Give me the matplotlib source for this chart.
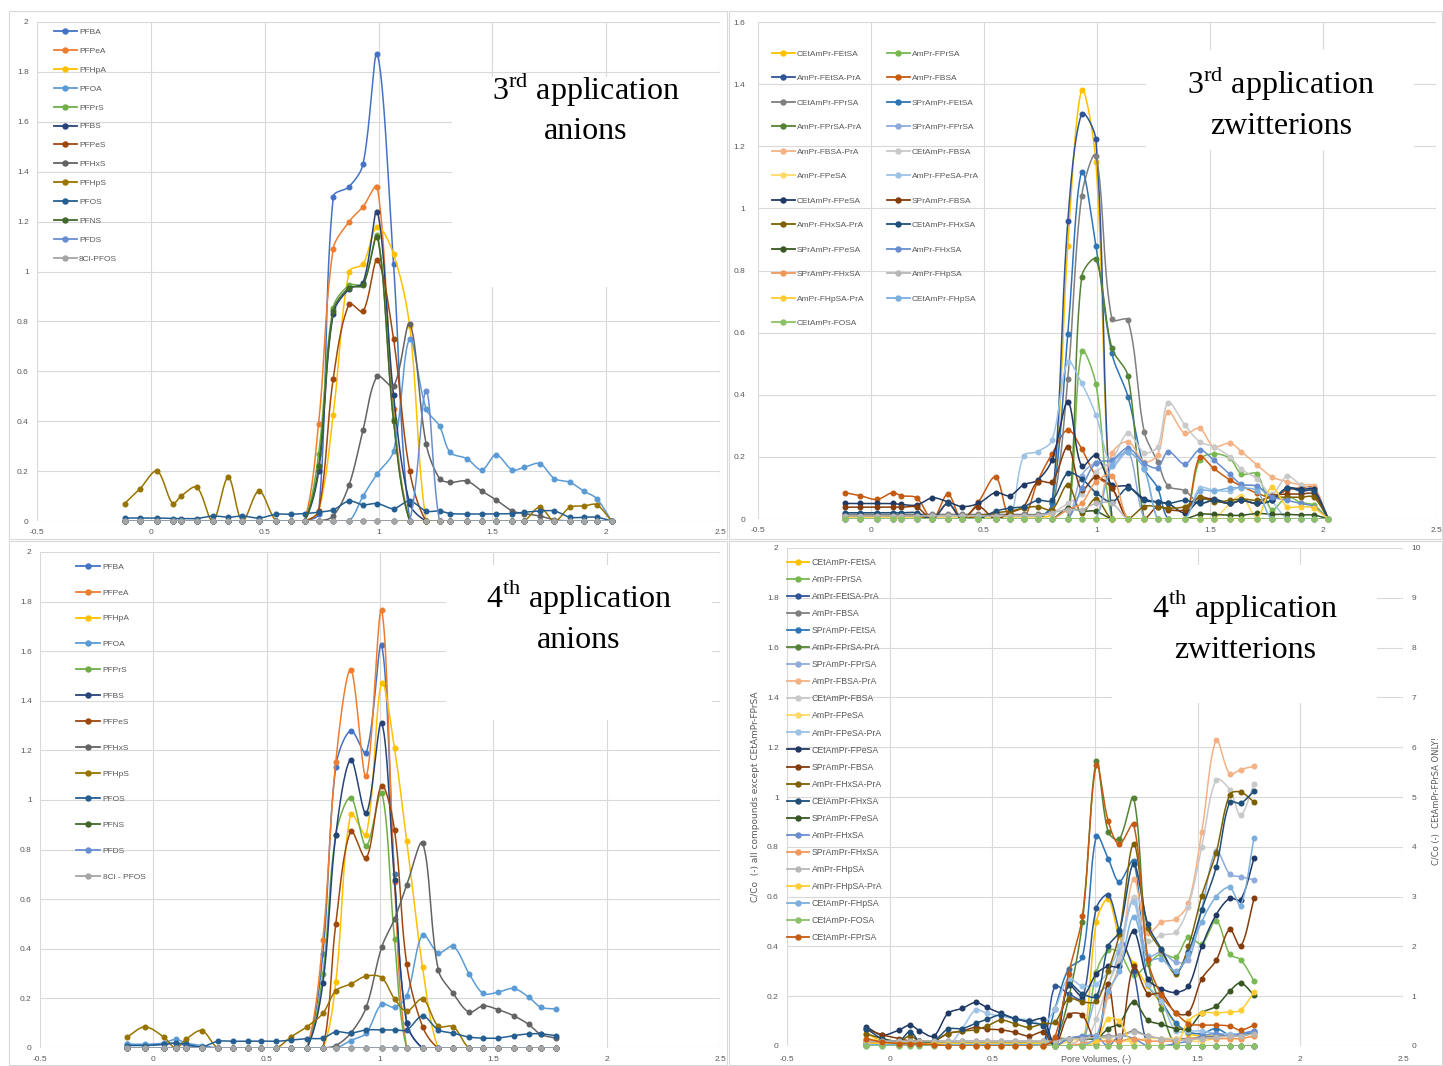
import numpy as np
import matplotlib.pyplot as plt
from matplotlib.patches import Rectangle
from matplotlib.lines import Line2D
from matplotlib.ticker import FuncFormatter

plt.rcParams['font.family'] = ['Liberation Sans Narrow', 'Liberation Sans', 'DejaVu Sans']
plt.rcParams['mathtext.fontset'] = 'custom'
plt.rcParams['mathtext.rm'] = 'Liberation Serif'

# Pore volumes sampled in each application
pv_3rd = [-0.115, -0.047, 0.027, 0.096, 0.133, 0.202, 0.272, 0.34, 0.402, 0.475,
          0.551, 0.614, 0.675, 0.737, 0.801, 0.871, 0.932, 0.995, 1.066, 1.137,
          1.209, 1.268, 1.315, 1.388, 1.454, 1.516, 1.588, 1.639, 1.708, 1.773,
          1.841, 1.901, 1.958, 2.024]
pv_4th = [-0.115, -0.037, 0.045, 0.099, 0.144, 0.214, 0.284, 0.353, 0.419, 0.473,
          0.542, 0.608, 0.678, 0.748, 0.805, 0.871, 0.939, 1.007, 1.064, 1.118,
          1.188, 1.257, 1.323, 1.393, 1.455, 1.520, 1.590, 1.656, 1.709, 1.775]

# ---------------- 3rd application, anions ----------------
pfba_3 = [0, 0, 0, 0, 0, 0, 0, 0, 0, 0,
          0, 0, 0, 0.03, 1.30, 1.34, 1.43, 1.87, 1.03, 0,
          0, 0, 0, 0, 0, 0, 0, 0, 0, 0,
          0, 0, 0, 0]
pfpea_3 = [0, 0, 0, 0, 0, 0, 0, 0, 0, 0,
           0, 0, 0, 0.39, 1.09, 1.20, 1.26, 1.34, 0.45, 0,
           0, 0, 0, 0, 0, 0, 0, 0, 0, 0,
           0, 0, 0, 0]
pfhpa_3 = [0, 0, 0, 0, 0, 0, 0, 0, 0, 0,
           0, 0, 0, 0.04, 0.425, 1.00, 1.03, 1.18, 1.07, 0.78,
           0, 0, 0, 0, 0, 0, 0, 0, 0, 0,
           0, 0, 0, 0]
pfoa_3 = [0, 0, 0, 0, 0, 0, 0, 0, 0, 0,
          0, 0, 0, 0, 0, 0, 0.10, 0.19, 0.28, 0.73,
          0.45, 0.38, 0.275, 0.25, 0.205, 0.265, 0.205, 0.215, 0.23, 0.17,
          0.155, 0.12, 0.09, 0]
pfprs_3 = [0, 0, 0, 0, 0, 0, 0, 0, 0, 0,
           0, 0, 0, 0.27, 0.855, 0.945, 0.95, 1.145, 0.41, 0,
           0, 0, 0, 0, 0, 0, 0, 0, 0, 0,
           0, 0, 0, 0]
pfbs_3 = [0, 0, 0, 0, 0, 0, 0, 0, 0, 0,
          0, 0, 0, 0.20, 0.83, 0.93, 0.955, 1.24, 0.505, 0.07,
          0, 0, 0, 0, 0, 0, 0, 0, 0, 0,
          0, 0, 0, 0]
pfpes_3 = [0, 0, 0, 0, 0, 0, 0, 0, 0, 0,
           0, 0, 0, 0.04, 0.57, 0.87, 0.84, 1.045, 0.73, 0.20,
           0, 0, 0, 0, 0, 0, 0, 0, 0, 0,
           0, 0, 0, 0]
pfhxs_3 = [0, 0, 0, 0, 0, 0, 0, 0, 0, 0,
           0, 0, 0, 0, 0.02, 0.145, 0.365, 0.58, 0.54, 0.79,
           0.31, 0.17, 0.155, 0.16, 0.12, 0.085, 0.04, 0.03, 0.02, 0.005,
           0, 0, 0, 0]
pfhps_3 = [0.07, 0.13, 0.20, 0.07, 0.10, 0.135, 0, 0.175, 0, 0.12,
           0, 0, 0, 0, 0, 0, 0, 0, 0, 0,
           0, 0, 0, 0, 0, 0, 0, 0, 0.055, 0,
           0.055, 0.06, 0.065, 0]
pfos_3 = [0.012, 0.012, 0.012, 0.01, 0.01, 0.01, 0.02, 0.015, 0.02, 0.012,
          0.027, 0.027, 0.03, 0.035, 0.045, 0.08, 0.065, 0.07, 0.05, 0.08,
          0.04, 0.04, 0.03, 0.028, 0.028, 0.028, 0.03, 0.035, 0.04, 0.04,
          0.015, 0.015, 0.015, 0]
pfns_3 = [0, 0, 0, 0, 0, 0, 0, 0, 0, 0,
          0, 0, 0, 0.22, 0.84, 0.935, 0.945, 1.14, 0.40, 0,
          0, 0, 0, 0, 0, 0, 0, 0, 0, 0,
          0, 0, 0, 0]
pfds_3 = [0, 0, 0, 0, 0, 0, 0, 0, 0, 0,
          0, 0, 0, 0, 0, 0, 0, 0, 0, 0,
          0.52, 0, 0, 0, 0, 0, 0, 0, 0, 0,
          0, 0, 0, 0]
cl8pfos_3 = [0, 0, 0, 0, 0, 0, 0, 0, 0, 0,
             0, 0, 0, 0, 0, 0, 0, 0, 0, 0,
             0, 0, 0, 0, 0, 0, 0, 0, 0, 0,
             0, 0, 0, 0]

# ---------------- 4th application, anions ----------------
pfba_4 = [0.015, 0.01, 0.015, 0.02, 0.01, 0.005, 0, 0, 0, 0,
          0, 0, 0, 0.38, 1.135, 1.28, 1.19, 1.625, 0.70, 0.10,
          0, 0, 0, 0, 0, 0, 0, 0, 0, 0]
pfpea_4 = [0, 0, 0, 0, 0, 0, 0, 0, 0, 0,
           0, 0, 0, 0.435, 1.155, 1.525, 1.095, 1.765, 0.67, 0,
           0, 0, 0, 0, 0, 0, 0, 0, 0, 0]
pfhpa_4 = [0, 0, 0, 0, 0, 0, 0, 0, 0, 0,
           0, 0, 0, 0, 0.266, 0.945, 0.86, 1.472, 1.208, 0.833,
           0.325, 0, 0, 0, 0, 0, 0, 0, 0, 0]
pfoa_4 = [0.015, 0.015, 0.02, 0.035, 0.02, 0.01, 0, 0, 0, 0,
          0, 0, 0, 0, 0, 0.03, 0.06, 0.177, 0.164, 0.21,
          0.457, 0.384, 0.41, 0.30, 0.22, 0.225, 0.24, 0.205, 0.165, 0.157]
pfprs_4 = [0, 0, 0, 0, 0, 0, 0, 0, 0, 0,
           0, 0, 0, 0.30, 0.86, 1.01, 0.815, 1.03, 0.438, 0,
           0, 0, 0, 0, 0, 0, 0, 0, 0, 0]
pfbs_4 = [0, 0, 0, 0, 0, 0, 0, 0, 0, 0,
          0, 0, 0, 0.262, 0.86, 1.163, 0.946, 1.311, 0.676, 0.102,
          0, 0, 0, 0, 0, 0, 0, 0, 0, 0]
pfpes_4 = [0, 0, 0, 0, 0, 0, 0, 0, 0, 0,
           0, 0, 0, 0, 0.501, 0.874, 0.765, 1.058, 0.88, 0.337,
           0.086, 0, 0, 0, 0, 0, 0, 0, 0, 0]
pfhxs_4 = [0, 0, 0, 0, 0, 0, 0, 0, 0, 0,
           0, 0, 0, 0, 0.01, 0.06, 0.164, 0.406, 0.52, 0.657,
           0.826, 0.315, 0.22, 0.145, 0.17, 0.155, 0.13, 0.095, 0.055, 0.04]
pfhps_4 = [0.045, 0.085, 0.045, 0, 0.035, 0.07, 0, 0, 0, 0,
           0, 0.045, 0.086, 0.14, 0.231, 0.258, 0.29, 0.284, 0.198, 0.149,
           0.198, 0.088, 0.086, 0, 0, 0, 0, 0, 0, 0]
pfos_4 = [0.01, 0.01, 0.015, 0.02, 0.015, 0.005, 0.027, 0.027, 0.028, 0.028,
          0.027, 0.032, 0.038, 0.04, 0.065, 0.06, 0.073, 0.073, 0.073, 0.073,
          0.129, 0.073, 0.06, 0.044, 0.04, 0.04, 0.05, 0.057, 0.057, 0.05]
pfns_4 = [0, 0, 0, 0, 0, 0, 0, 0, 0, 0,
          0, 0, 0, 0, 0, 0, 0, 0, 0, 0,
          0, 0, 0, 0, 0, 0, 0, 0, 0, 0]
pfds_4 = [0, 0, 0, 0, 0, 0, 0, 0, 0, 0,
          0, 0, 0, 0, 0, 0, 0, 0, 0, 0,
          0, 0, 0, 0, 0, 0, 0, 0, 0, 0]
cl8pfos_4 = [0, 0, 0, 0, 0, 0, 0, 0, 0, 0,
             0, 0, 0, 0, 0, 0, 0, 0, 0, 0,
             0, 0, 0, 0, 0, 0, 0, 0, 0, 0]

anion_names_3 = ['PFBA', 'PFPeA', 'PFHpA', 'PFOA', 'PFPrS', 'PFBS', 'PFPeS', 'PFHxS',
                 'PFHpS', 'PFOS', 'PFNS', 'PFDS', '8Cl-PFOS']
anion_names_4 = ['PFBA', 'PFPeA', 'PFHpA', 'PFOA', 'PFPrS', 'PFBS', 'PFPeS', 'PFHxS',
                 'PFHpS', 'PFOS', 'PFNS', 'PFDS', '8Cl - PFOS']
anion_colors = ['#4472C4', '#ED7D31', '#FFC000', '#5B9BD5', '#70AD47', '#264478', '#9E480E',
                '#636363', '#997300', '#255E91', '#43682B', '#698ED0', '#A5A5A5']

# ---------------- 3rd application, zwitterions ----------------
z3_cetampr_fetsa = [0.01, 0.01, 0.01, 0.01, 0.01, 0.01, 0.01, 0.005, 0.005, 0.005,
                    0.005, 0.005, 0.005, 0.005, 0.02, 0.88, 1.38, 1.15, 0, 0,
                    0, 0, 0, 0, 0, 0, 0, 0, 0, 0,
                    0, 0, 0, 0]
z3_ampr_fprsa = [0, 0, 0, 0, 0, 0, 0, 0, 0, 0,
                 0, 0, 0, 0, 0, 0, 0.54, 0.435, 0, 0,
                 0, 0, 0, 0, 0.19, 0.21, 0.195, 0.145, 0.145, 0.03,
                 0.072, 0.053, 0.045, 0]
z3_ampr_fetsa_pra = [0, 0, 0, 0, 0, 0, 0, 0, 0, 0,
                     0, 0, 0, 0, 0.05, 0.96, 1.305, 1.222, 0, 0,
                     0, 0, 0, 0, 0, 0, 0, 0, 0, 0,
                     0, 0, 0, 0]
z3_ampr_fbsa = [0.085, 0.075, 0.063, 0.085, 0.075, 0.068, 0, 0.08, 0, 0.055,
                0.135, 0, 0, 0.12, 0.21, 0.287, 0.226, 0.14, 0.10, 0,
                0, 0, 0, 0, 0.20, 0.163, 0.126, 0.106, 0.083, 0.07,
                0.093, 0.10, 0.10, 0]
z3_cetampr_fprsa = [0.015, 0.015, 0.015, 0.015, 0.015, 0.015, 0.015, 0.015, 0.015, 0.015,
                    0.015, 0.015, 0.015, 0.015, 0.03, 0.45, 1.04, 1.17, 0.643, 0.64,
                    0.281, 0.185, 0.106, 0.091, 0.05, 0.06, 0.05, 0.06, 0.05, 0.06,
                    0.10, 0.09, 0.09, 0]
z3_sprampr_fetsa = [0, 0, 0, 0, 0, 0, 0, 0, 0, 0,
                    0, 0, 0, 0, 0.05, 0.596, 1.118, 0.879, 0.533, 0.394,
                    0.165, 0.10, 0, 0, 0, 0, 0, 0, 0, 0,
                    0, 0, 0, 0]
z3_ampr_fprsa_pra = [0, 0, 0, 0, 0, 0, 0, 0, 0, 0,
                     0, 0, 0, 0, 0, 0, 0.78, 0.836, 0.55, 0.46,
                     0, 0, 0, 0, 0, 0, 0, 0, 0, 0,
                     0, 0, 0, 0]
z3_sprampr_fprsa = [0, 0, 0, 0, 0, 0, 0, 0, 0, 0,
                    0, 0, 0, 0, 0, 0, 0.14, 0.18, 0.17, 0.22,
                    0, 0, 0, 0, 0, 0, 0, 0, 0, 0,
                    0, 0, 0, 0]
z3_ampr_fbsa_pra = [0, 0, 0, 0, 0, 0, 0, 0, 0, 0,
                    0, 0, 0, 0, 0, 0, 0, 0, 0.211, 0.249,
                    0.185, 0.206, 0.346, 0.276, 0.292, 0.233, 0.244, 0.217, 0.174, 0.136,
                    0.12, 0.11, 0.106, 0]
z3_cetampr_fbsa = [0.01, 0.01, 0.01, 0.01, 0.01, 0.01, 0.01, 0.01, 0.01, 0.01,
                   0.01, 0.01, 0.01, 0.01, 0.02, 0.05, 0.08, 0.15, 0.19, 0.276,
                   0.214, 0.233, 0.375, 0.303, 0.249, 0.233, 0.2, 0.16, 0.13, 0.08,
                   0.138, 0.11, 0.093, 0]
z3_ampr_fpesa = [0.005, 0.005, 0.005, 0.005, 0.005, 0.005, 0.005, 0.005, 0.005, 0.005,
                 0.005, 0.005, 0.005, 0.005, 0, 0, 0, 0, 0, 0,
                 0, 0, 0, 0, 0, 0, 0.05, 0.075, 0, 0,
                 0, 0, 0, 0]
z3_ampr_fpesa_pra = [0, 0, 0, 0, 0, 0, 0, 0, 0, 0,
                     0, 0, 0.203, 0.217, 0.254, 0.506, 0.437, 0.335, 0.17, 0.215,
                     0.16, 0, 0, 0, 0.099, 0.093, 0.09, 0.106, 0.104, 0.06,
                     0, 0, 0, 0]
z3_cetampr_fpesa = [0.05, 0.05, 0.05, 0.05, 0.047, 0.045, 0.068, 0.055, 0.04, 0.05,
                    0.085, 0.075, 0.11, 0.125, 0.19, 0.376, 0.17, 0.205, 0.11, 0.105,
                    0.065, 0.055, 0.05, 0.02, 0.06, 0.065, 0.05, 0.06, 0.05, 0.06,
                    0.10, 0.095, 0.095, 0]
z3_sprampr_fbsa = [0.038, 0.038, 0.038, 0.038, 0.038, 0.038, 0, 0.05, 0, 0.04,
                   0, 0.02, 0.04, 0.12, 0.12, 0.232, 0.094, 0.135, 0.10, 0,
                   0, 0.04, 0.03, 0.03, 0.07, 0.06, 0.05, 0.06, 0.05, 0.075,
                   0.08, 0.08, 0.08, 0]
z3_ampr_fhxsa_pra = [0.01, 0.01, 0.01, 0.01, 0.01, 0.01, 0, 0, 0, 0.01,
                     0.02, 0.025, 0.035, 0.04, 0.03, 0.11, 0.02, 0.065, 0, 0,
                     0.04, 0.04, 0.035, 0.04, 0.07, 0.055, 0.06, 0.065, 0.06, 0.07,
                     0.07, 0.07, 0.07, 0]
z3_cetampr_fhxsa = [0.02, 0.02, 0.02, 0.02, 0.02, 0.02, 0, 0.05, 0, 0,
                    0.025, 0.035, 0.04, 0.06, 0.06, 0.148, 0.13, 0.085, 0.055, 0.10,
                    0.06, 0.055, 0.05, 0.06, 0.05, 0.06, 0.05, 0.06, 0.05, 0.06,
                    0.10, 0.09, 0.09, 0]
z3_sprampr_fpesa = [0, 0, 0, 0, 0, 0, 0, 0, 0, 0,
                    0, 0, 0, 0, 0, 0.035, 0.025, 0.025, 0, 0,
                    0, 0, 0, 0, 0.015, 0.015, 0.012, 0.012, 0.018, 0.015,
                    0.015, 0.013, 0.013, 0]
z3_ampr_fhxsa = [0, 0, 0, 0, 0, 0, 0, 0, 0, 0,
                 0, 0, 0, 0, 0, 0, 0.10, 0.18, 0.19, 0.228,
                 0.18, 0.165, 0.217, 0.177, 0.222, 0.19, 0.144, 0.112, 0.106, 0.072,
                 0.06, 0.05, 0.04, 0]
z3_sprampr_fhxsa = [0, 0, 0, 0, 0, 0, 0, 0, 0, 0,
                    0, 0, 0, 0, 0, 0.03, 0.05, 0.12, 0.14, 0,
                    0, 0, 0, 0, 0, 0, 0, 0, 0, 0,
                    0, 0, 0, 0]
z3_ampr_fhpsa = [0.01, 0.01, 0.01, 0.01, 0.01, 0.01, 0.01, 0.01, 0.01, 0.01,
                 0.01, 0.01, 0.01, 0.01, 0.02, 0.03, 0.03, 0.05, 0.05, 0,
                 0, 0, 0, 0, 0, 0, 0, 0, 0, 0,
                 0, 0, 0, 0]
z3_ampr_fhpsa_pra = [0, 0, 0, 0, 0, 0, 0, 0, 0, 0,
                     0, 0, 0, 0, 0, 0, 0, 0, 0, 0,
                     0, 0, 0, 0, 0, 0, 0, 0, 0, 0.102,
                     0.04, 0.04, 0.035, 0]
z3_cetampr_fhpsa = [0, 0, 0, 0, 0, 0, 0, 0, 0, 0,
                    0, 0, 0, 0, 0, 0, 0, 0, 0.175, 0.215,
                    0.16, 0, 0, 0, 0.09, 0.09, 0.10, 0.10, 0.09, 0,
                    0, 0, 0, 0]
z3_cetampr_fosa = [0, 0, 0, 0, 0, 0, 0, 0, 0, 0,
                   0, 0, 0, 0, 0, 0, 0, 0, 0, 0,
                   0, 0, 0, 0, 0, 0, 0, 0, 0, 0,
                   0, 0, 0, 0]

zw_names_3 = ['CEtAmPr-FEtSA', 'AmPr-FPrSA', 'AmPr-FEtSA-PrA', 'AmPr-FBSA', 'CEtAmPr-FPrSA',
              'SPrAmPr-FEtSA', 'AmPr-FPrSA-PrA', 'SPrAmPr-FPrSA', 'AmPr-FBSA-PrA', 'CEtAmPr-FBSA',
              'AmPr-FPeSA', 'AmPr-FPeSA-PrA', 'CEtAmPr-FPeSA', 'SPrAmPr-FBSA', 'AmPr-FHxSA-PrA',
              'CEtAmPr-FHxSA', 'SPrAmPr-FPeSA', 'AmPr-FHxSA', 'SPrAmPr-FHxSA', 'AmPr-FHpSA',
              'AmPr-FHpSA-PrA', 'CEtAmPr-FHpSA', 'CEtAmPr-FOSA']
zw_colors_3 = ['#FFC000', '#78B850', '#2F5597', '#C55A11', '#7F7F7F',
               '#2E75B6', '#548235', '#8FAADC', '#F4B183', '#C9C9C9',
               '#FFD966', '#9DC3E6', '#203864', '#843C0C', '#7F6000',
               '#1F4E79', '#385723', '#698ED0', '#F1975A', '#B7B7B7',
               '#FFCD33', '#7CAFDD', '#8CC168']

# ---------------- 4th application, zwitterions ----------------
z4_cetampr_fetsa = [0.05, 0.02, 0.01, 0.01, 0.005, 0.005, 0, 0, 0, 0,
                    0, 0, 0, 0, 0, 0, 0, 0.50, 0.59, 0.44,
                    0.33, 0.24, 0.17, 0.09, 0.05, 0.04, 0.04, 0.04, 0.04, 0.05]
z4_ampr_fprsa = [0.005, 0.005, 0.005, 0.005, 0.005, 0.005, 0.005, 0.005, 0.005, 0.005,
                 0.005, 0.005, 0.005, 0.005, 0, 0, 0, 0.297, 0.384, 0.377,
                 0.284, 0.33, 0.37, 0.357, 0.437, 0.41, 0.504, 0.368, 0.347, 0.261]
z4_ampr_fetsa_pra = [0.01, 0.01, 0.01, 0.01, 0.01, 0.01, 0.01, 0.01, 0.01, 0.01,
                     0.01, 0.01, 0.01, 0.01, 0.24, 0.21, 0.19, 0.555, 0.607, 0.464,
                     0.30, 0, 0, 0, 0, 0, 0, 0, 0, 0]
z4_ampr_fbsa = [0.02, 0.02, 0.02, 0.02, 0.02, 0.02, 0.02, 0.02, 0.02, 0.02,
                0.02, 0.02, 0.02, 0.02, 0.03, 0.03, 0.035, 0.04, 0.04, 0.04,
                0.06, 0.04, 0.03, 0.03, 0.03, 0.035, 0.04, 0.04, 0.045, 0.055]
z4_sprampr_fetsa = [0.005, 0.005, 0.005, 0.005, 0.005, 0.005, 0.005, 0.005, 0.005, 0.005,
                    0.005, 0.005, 0.005, 0.005, 0.15, 0.31, 0.357, 0.844, 0.753, 0.66,
                    0.744, 0.25, 0.18, 0.093, 0.057, 0.05, 0.07, 0.044, 0.044, 0.057]
z4_ampr_fprsa_pra = [0.01, 0.01, 0.01, 0.01, 0.01, 0.01, 0.01, 0.01, 0.01, 0.01,
                     0.01, 0.01, 0.01, 0.01, 0.02, 0.19, 0.50, 1.144, 0.86, 0.83,
                     0.997, 0.344, 0.15, 0, 0, 0, 0, 0, 0, 0]
z4_sprampr_fprsa = [0.005, 0.005, 0.005, 0.005, 0.005, 0.005, 0.005, 0.005, 0.005, 0.005,
                    0.005, 0.005, 0.005, 0.005, 0.02, 0.03, 0.03, 0.20, 0.25, 0.38,
                    0.59, 0.36, 0.377, 0.337, 0.344, 0.55, 0.784, 0.69, 0.68, 0.667]
z4_ampr_fbsa_pra = [0.005, 0.005, 0.005, 0.005, 0.005, 0.005, 0.005, 0.005, 0.005, 0.005,
                    0.005, 0.005, 0.005, 0.005, 0, 0, 0.03, 0.04, 0.20, 0.33,
                    0.67, 0.453, 0.497, 0.51, 0.573, 0.86, 1.228, 1.093, 1.11, 1.124]
z4_cetampr_fbsa = [0.02, 0.02, 0.02, 0.02, 0.02, 0.02, 0.02, 0.02, 0.02, 0.02,
                   0.02, 0.02, 0.02, 0.02, 0.02, 0.02, 0, 0.11, 0.25, 0.35,
                   0.597, 0.42, 0.445, 0.457, 0.56, 0.80, 1.07, 1.03, 0.927, 1.053]
z4_ampr_fpesa = [0.03, 0.02, 0.01, 0.01, 0.01, 0.005, 0, 0, 0, 0,
                 0, 0, 0, 0, 0, 0.02, 0.03, 0.03, 0.03, 0.02,
                 0.02, 0.03, 0.03, 0.03, 0.02, 0.02, 0.03, 0.03, 0.03, 0.04]
z4_ampr_fpesa_pra = [0, 0, 0, 0, 0, 0, 0, 0.07, 0.145, 0.131,
                     0.12, 0.11, 0.105, 0.09, 0.15, 0.27, 0.24, 0.25, 0.30, 0.40,
                     0.58, 0.25, 0.18, 0.06, 0.06, 0.06, 0.05, 0.05, 0.05, 0.06]
z4_cetampr_fpesa = [0.078, 0.044, 0.064, 0.084, 0.062, 0.04, 0.131, 0.151, 0.175, 0.155,
                    0.131, 0.111, 0.10, 0.107, 0, 0.244, 0.20, 0.29, 0.32, 0.32,
                    0.46, 0.27, 0.23, 0.215, 0.24, 0.40, 0.527, 0.593, 0.587, 0.755]
z4_sprampr_fbsa = [0.067, 0.045, 0.03, 0.02, 0.02, 0.02, 0.05, 0.06, 0.075, 0.068,
                   0.065, 0.055, 0.04, 0.055, 0, 0.124, 0.124, 0.01, 0.25, 0,
                   0.32, 0.21, 0.21, 0.133, 0.133, 0.27, 0.344, 0.468, 0.40, 0.593]
z4_ampr_fhxsa_pra = [0.05, 0.03, 0.02, 0.04, 0.02, 0.02, 0.05, 0.06, 0.065, 0.08,
                     0.104, 0.09, 0.075, 0.09, 0.095, 0.19, 0.177, 0.18, 0.30, 0.45,
                     0.81, 0.475, 0.384, 0.29, 0.40, 0.604, 0.777, 1.01, 1.02, 0.98]
z4_cetampr_fhxsa = [0.07, 0.03, 0.02, 0.058, 0.02, 0.02, 0.068, 0.07, 0.091, 0.107,
                    0.125, 0.11, 0.095, 0.08, 0, 0.25, 0.21, 0.20, 0.40, 0.46,
                    0.73, 0.49, 0.39, 0.297, 0.377, 0.548, 0.717, 0.98, 0.975, 1.024]
z4_sprampr_fpesa = [0.01, 0.01, 0.01, 0.01, 0.01, 0.01, 0.01, 0.01, 0.01, 0.01,
                    0.01, 0.01, 0.01, 0.01, 0, 0.03, 0.03, 0.03, 0.07, 0.09,
                    0.177, 0.104, 0.087, 0.07, 0.07, 0.133, 0.16, 0.22, 0.253, 0.204]
z4_ampr_fhxsa = [0.005, 0.005, 0.005, 0.005, 0.005, 0.005, 0.005, 0.005, 0.005, 0.005,
                 0.005, 0.005, 0.005, 0.005, 0, 0.03, 0.04, 0.04, 0, 0.04,
                 0.03, 0, 0, 0.01, 0.02, 0.04, 0.05, 0.04, 0.05, 0.06]
z4_sprampr_fhxsa = [0.02, 0.01, 0.01, 0.01, 0.01, 0.005, 0, 0, 0, 0,
                    0, 0, 0, 0, 0, 0, 0.01, 0.02, 0.02, 0.02,
                    0.03, 0.02, 0.02, 0.02, 0.03, 0.03, 0.03, 0.03, 0.03, 0.04]
z4_ampr_fhpsa = [0.02, 0.02, 0.02, 0.02, 0.02, 0.02, 0.02, 0.02, 0.02, 0.02,
                 0.02, 0.02, 0.02, 0.02, 0.02, 0.03, 0.03, 0.035, 0.035, 0.04,
                 0.055, 0.04, 0.03, 0.025, 0.025, 0.03, 0.035, 0.04, 0.04, 0.05]
z4_ampr_fhpsa_pra = [0.01, 0.01, 0.01, 0.01, 0.01, 0.01, 0.01, 0.01, 0.01, 0.01,
                     0.01, 0.01, 0.01, 0.01, 0, 0, 0, 0.02, 0.11, 0.10,
                     0, 0, 0, 0, 0.10, 0.133, 0.133, 0.137, 0.144, 0.217]
z4_cetampr_fhpsa = [0.005, 0.005, 0.005, 0.005, 0.005, 0.005, 0.005, 0.005, 0.005, 0.005,
                    0.005, 0.005, 0.005, 0.005, 0, 0, 0, 0.04, 0.22, 0.30,
                    0.52, 0.35, 0.35, 0.30, 0.37, 0.50, 0.60, 0.637, 0.564, 0.837]
z4_cetampr_fosa = [0, 0, 0, 0, 0, 0, 0, 0, 0, 0,
                   0, 0, 0, 0, 0, 0, 0, 0, 0, 0,
                   0, 0, 0, 0, 0, 0, 0, 0, 0, 0]
# plotted against the secondary (right) axis
z4_cetampr_fprsa = [0.15, 0.08, 0.05, 0.05, 0.04, 0.03, 0, 0, 0, 0,
                    0, 0, 0, 0, 0.18, 1.45, 2.62, 5.65, 4.52, 4.05,
                    4.45, 1.75, 1.02, 0.67, 0.45, 0.42, 0.42, 0.40, 0.32, 0.42]

zw_names_4 = ['CEtAmPr-FEtSA', 'AmPr-FPrSA', 'AmPr-FEtSA-PrA', 'AmPr-FBSA', 'SPrAmPr-FEtSA',
              'AmPr-FPrSA-PrA', 'SPrAmPr-FPrSA', 'AmPr-FBSA-PrA', 'CEtAmPr-FBSA', 'AmPr-FPeSA',
              'AmPr-FPeSA-PrA', 'CEtAmPr-FPeSA', 'SPrAmPr-FBSA', 'AmPr-FHxSA-PrA', 'CEtAmPr-FHxSA',
              'SPrAmPr-FPeSA', 'AmPr-FHxSA', 'SPrAmPr-FHxSA', 'AmPr-FHpSA', 'AmPr-FHpSA-PrA',
              'CEtAmPr-FHpSA', 'CEtAmPr-FOSA', 'CEtAmPr-FPrSA']
zw_colors_4 = ['#FFC000', '#78B850', '#2F5597', '#7F7F7F', '#2E75B6',
               '#548235', '#8FAADC', '#F4B183', '#C9C9C9', '#FFD966',
               '#9DC3E6', '#203864', '#843C0C', '#7F6000', '#1F4E79',
               '#385723', '#698ED0', '#F1975A', '#B7B7B7', '#FFCD33',
               '#7CAFDD', '#8CC168', '#C55A11']

anions_3 = [pfba_3, pfpea_3, pfhpa_3, pfoa_3, pfprs_3, pfbs_3, pfpes_3, pfhxs_3,
            pfhps_3, pfos_3, pfns_3, pfds_3, cl8pfos_3]
anions_4 = [pfba_4, pfpea_4, pfhpa_4, pfoa_4, pfprs_4, pfbs_4, pfpes_4, pfhxs_4,
            pfhps_4, pfos_4, pfns_4, pfds_4, cl8pfos_4]
zw_3 = [z3_cetampr_fetsa, z3_ampr_fprsa, z3_ampr_fetsa_pra, z3_ampr_fbsa, z3_cetampr_fprsa,
        z3_sprampr_fetsa, z3_ampr_fprsa_pra, z3_sprampr_fprsa, z3_ampr_fbsa_pra, z3_cetampr_fbsa,
        z3_ampr_fpesa, z3_ampr_fpesa_pra, z3_cetampr_fpesa, z3_sprampr_fbsa, z3_ampr_fhxsa_pra,
        z3_cetampr_fhxsa, z3_sprampr_fpesa, z3_ampr_fhxsa, z3_sprampr_fhxsa, z3_ampr_fhpsa,
        z3_ampr_fhpsa_pra, z3_cetampr_fhpsa, z3_cetampr_fosa]
zw_4 = [z4_cetampr_fetsa, z4_ampr_fprsa, z4_ampr_fetsa_pra, z4_ampr_fbsa, z4_sprampr_fetsa,
        z4_ampr_fprsa_pra, z4_sprampr_fprsa, z4_ampr_fbsa_pra, z4_cetampr_fbsa, z4_ampr_fpesa,
        z4_ampr_fpesa_pra, z4_cetampr_fpesa, z4_sprampr_fbsa, z4_ampr_fhxsa_pra, z4_cetampr_fhxsa,
        z4_sprampr_fpesa, z4_ampr_fhxsa, z4_sprampr_fhxsa, z4_ampr_fhpsa, z4_ampr_fhpsa_pra,
        z4_cetampr_fhpsa, z4_cetampr_fosa]

W, H = 1443, 1066
GRID = '#D9D9D9'
LABEL = '#595959'
LW = 1.1
MS = 3.3


def smooth(ax, x, y, n=20):
    # Bezier "smoothed line" through the points; tangents weighted by the
    # on-screen length of neighbouring segments to limit overshoot
    p = np.column_stack([x, y]).astype(float)
    q = ax.transData.transform(p)
    ext = np.vstack([p[0], p, p[-1]])
    qext = np.vstack([q[0], q, q[-1]])
    t = np.linspace(0, 1, n)[:, None]
    segs = []
    for i in range(1, len(ext) - 2):
        p0, p1, p2, p3 = ext[i - 1], ext[i], ext[i + 1], ext[i + 2]
        d01 = np.hypot(*(qext[i] - qext[i - 1]))
        d12 = np.hypot(*(qext[i + 1] - qext[i]))
        d23 = np.hypot(*(qext[i + 2] - qext[i + 1]))
        f1 = d12 / (d01 + d12) if d01 + d12 > 0 else 0.5
        f2 = d12 / (d12 + d23) if d12 + d23 > 0 else 0.5
        c1 = p1 + (p2 - p0) * f1 / 3
        c2 = p2 - (p3 - p1) * f2 / 3
        seg = ((1 - t) ** 3 * p1 + 3 * (1 - t) ** 2 * t * c1
               + 3 * (1 - t) * t ** 2 * c2 + t ** 3 * p2)
        segs.append(seg if i == 1 else seg[1:])
    s = np.vstack(segs)
    return s[:, 0], s[:, 1]


def draw_series(ax, x, y, color, z):
    sx, sy = smooth(ax, x, y)
    ax.plot(sx, sy, color=color, lw=LW, zorder=z)
    ax.plot(x, y, ls='none', marker='o', ms=MS, color=color, zorder=z + 0.005, clip_on=False)


def px_axes(x0, x1, ytop, ybot):
    return fig.add_axes([x0 / W, 1 - ybot / H, (x1 - x0) / W, (ybot - ytop) / H])


def style(ax, ymax, ypad=5, xpad=5):
    ax.set_xlim(-0.5, 2.5)
    ax.set_ylim(0, ymax)
    ax.set_xticks(np.arange(-0.5, 2.51, 0.5))
    ax.set_yticks(np.arange(0, ymax + 0.01, 0.2))
    fmt = FuncFormatter(lambda v, p: f'{v:g}')
    ax.xaxis.set_major_formatter(fmt)
    ax.yaxis.set_major_formatter(fmt)
    ax.grid(True, color=GRID, lw=0.8)
    ax.set_axisbelow(True)
    for s in ax.spines.values():
        s.set_visible(False)
    ax.tick_params(axis='both', length=0, labelsize=6, labelcolor=LABEL)
    ax.tick_params(axis='y', pad=ypad)
    ax.tick_params(axis='x', pad=xpad)


def handles(colors):
    return [Line2D([0], [0], color=c, lw=LW + 0.2, marker='o', ms=MS + 0.3) for c in colors]


def add_legend(h, labels, x, y, spacing, hlen=2.7, size=6):
    leg = fig.legend(h, labels, loc='upper left', bbox_to_anchor=(x / W, 1 - y / H),
                     bbox_transform=fig.transFigure, frameon=False, fontsize=size,
                     labelcolor=LABEL, borderpad=0, borderaxespad=0, handlelength=hlen,
                     handletextpad=0.3, labelspacing=spacing)
    return leg


def title_box(x0, x1, y0, y1, line1, line2, cx, cy1, cy2):
    fig.add_artist(Rectangle((x0 / W, 1 - y1 / H), (x1 - x0) / W, (y1 - y0) / H,
                             transform=fig.transFigure, facecolor='white',
                             edgecolor='none', zorder=1))
    fig.text(cx / W, 1 - cy1 / H, line1, ha='center', va='center', fontsize=23,
             family='Liberation Serif', zorder=3)
    fig.text(cx / W, 1 - cy2 / H, line2, ha='center', va='center', fontsize=23,
             family='Liberation Serif', zorder=3)


fig = plt.figure(figsize=(W / 100, H / 100), dpi=100)

# chart area borders
for (x0, y0, x1, y1) in [(9, 11, 727, 539), (729, 11, 1442, 539),
                         (9, 541, 727, 1065), (729, 541, 1442, 1065)]:
    fig.add_artist(Rectangle((x0 / W, 1 - y1 / H), (x1 - x0) / W, (y1 - y0) / H,
                             transform=fig.transFigure, fill=False, edgecolor=GRID, lw=0.8))

# ---- 3rd application, anions ----
ax_a = px_axes(37, 720, 22, 521)
style(ax_a, 2.0, ypad=6, xpad=6)
for i, (y, c) in enumerate(zip(anions_3, anion_colors)):
    draw_series(ax_a, pv_3rd, y, c, 2 + i * 0.01)
add_legend(handles(anion_colors), anion_names_3, 54, 28, 1.33)
title_box(452, 720, 77, 287, r'3$^{\mathrm{rd}}$ application', 'anions', 586, 89, 132)

# ---- 3rd application, zwitterions ----
ax_b = px_axes(758, 1436, 22, 519)
style(ax_b, 1.6, ypad=9, xpad=6)
for i, (y, c) in enumerate(zip(zw_3, zw_colors_3)):
    draw_series(ax_b, pv_3rd, y, c, 2 + i * 0.01)
h3 = handles(zw_colors_3)
add_legend(h3[0::2], zw_names_3[0::2], 772, 50, 2.0)
add_legend(h3[1::2], zw_names_3[1::2], 887, 50, 2.0)
title_box(1146, 1414, 50, 150, r'3$^{\mathrm{rd}}$ application', 'zwitterions', 1281, 83, 126)

# ---- 4th application, anions ----
ax_c = px_axes(40, 720, 552, 1048)
style(ax_c, 2.0, ypad=6, xpad=6)
for i, (y, c) in enumerate(zip(anions_4, anion_colors)):
    draw_series(ax_c, pv_4th, y, c, 2 + i * 0.01)
add_legend(handles(anion_colors), anion_names_4, 76, 563, 2.16, hlen=2.9)
title_box(446, 712, 565, 720, r'4$^{\mathrm{th}}$ application', 'anions', 579, 597, 640)

# ---- 4th application, zwitterions (CEtAmPr-FPrSA on the right axis) ----
ax_d = px_axes(787, 1403, 548, 1046)
style(ax_d, 2.0, ypad=6, xpad=7)
ax_d.set_xticks(np.arange(-0.5, 2.51, 0.5))
ax_d.set_xticklabels(['-0.5', '0', '0.5', '', '1.5', '2', '2.5'])
for i, (y, c) in enumerate(zip(zw_4, zw_colors_4[:-1])):
    draw_series(ax_d, pv_4th, y, c, 2 + i * 0.01)
ax_d2 = ax_d.twinx()
ax_d2.set_ylim(0, 10)
ax_d2.set_yticks(range(0, 11))
for s in ax_d2.spines.values():
    s.set_visible(False)
ax_d2.tick_params(axis='y', length=0, labelsize=6, labelcolor=LABEL, pad=6)
draw_series(ax_d2, pv_4th, z4_cetampr_fprsa, zw_colors_4[-1], 3)
add_legend(handles(zw_colors_4), zw_names_4, 787, 558, 0.92, hlen=2.5, size=6.3)
title_box(1112, 1377, 565, 703, r'4$^{\mathrm{th}}$ application', 'zwitterions', 1245, 607, 650)

fig.text(755 / W, 1 - 797 / H, 'C/Co  (-) all compounds except CEtAmPr-FPrSA', rotation=90,
         ha='center', va='center', fontsize=6.5, color=LABEL, family='DejaVu Sans')
fig.text(1436 / W, 1 - 801 / H, 'C/Co (-)  CEtAmPr-FPrSA ONLY!', rotation=90,
         ha='center', va='center', fontsize=6, color=LABEL, family='DejaVu Sans')
fig.text(1096 / W, 1 - 1060 / H, 'Pore Volumes, (-)', ha='center', va='center',
         fontsize=6.5, color=LABEL)

fig.savefig('out.png', dpi=100, facecolor='white')
